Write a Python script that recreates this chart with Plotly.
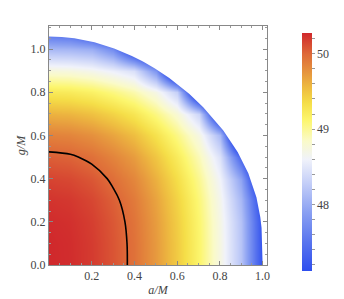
import plotly.graph_objects as go

# ---- data ----
a_vals = [0.0, 0.1, 0.2, 0.3, 0.4, 0.5, 0.6, 0.7, 0.8, 0.9, 1.0]
g_vals = [0.0, 0.1, 0.2, 0.3, 0.4, 0.5, 0.6, 0.7, 0.8, 0.9, 1.0, 1.1]

z_g00 = [50.280, 50.260, 50.198, 50.090, 49.955, 49.730, 49.465, 49.133, 48.720, 48.200, 47.120]
z_g01 = [50.278, 50.258, 50.196, 50.088, 49.953, 49.728, 49.463, 49.131, 48.718, 48.198, 47.120]
z_g02 = [50.265, 50.245, 50.183, 50.075, 49.940, 49.715, 49.450, 49.118, 48.705, 48.185, 47.110]
z_g03 = [50.230, 50.210, 50.148, 50.040, 49.905, 49.680, 49.415, 49.083, 48.670, 48.100, 47.000]
z_g04 = [50.160, 50.140, 50.078, 49.970, 49.835, 49.610, 49.345, 49.013, 48.600, 47.930, 46.530]
z_g05 = [50.043, 50.023, 49.961, 49.853, 49.718, 49.493, 49.228, 48.896, 48.450, 47.340, 46.200]
z_g06 = [49.864, 49.844, 49.782, 49.674, 49.539, 49.314, 49.049, 48.717, 48.100, 46.020, 45.800]
z_g07 = [49.607, 49.587, 49.525, 49.417, 49.282, 49.057, 48.792, 48.340, 46.620, 45.800, 45.800]
z_g08 = [49.253, 49.233, 49.171, 49.063, 48.928, 48.703, 48.290, 46.460, 45.800, 45.800, 45.800]
z_g09 = [48.766, 48.746, 48.684, 48.576, 48.441, 47.800, 46.200, 45.800, 45.800, 45.800, 45.800]
z_g10 = [48.093, 48.073, 48.011, 47.700, 46.900, 46.300, 45.800, 45.800, 45.800, 45.800, 45.800]
z_g11 = [47.240, 47.170, 46.800, 46.300, 45.800, 45.800, 45.800, 45.800, 45.800, 45.800, 45.800]

# edge of the region where the map is defined
boundary_a = [0.0, 0.06, 0.119, 0.169, 0.213, 0.305, 0.388, 0.440, 0.496, 0.563, 0.605,
              0.656, 0.722, 0.816, 0.883, 0.933, 0.971, 0.989, 0.995, 0.9995, 1.0]
boundary_g = [1.058, 1.056, 1.050, 1.041, 1.031, 1.003, 0.968, 0.942, 0.910, 0.866, 0.835,
              0.793, 0.731, 0.623, 0.523, 0.425, 0.314, 0.222, 0.173, 0.080, 0.0]

contour_level = 50.0
z_min, z_max = 47.12, 50.28
x_ticks = [0.2, 0.4, 0.6, 0.8, 1.0]
y_ticks = [0.0, 0.2, 0.4, 0.6, 0.8, 1.0]
cbar_major = [48, 49, 50]

# ---- figure ----
z = [z_g00, z_g01, z_g02, z_g03, z_g04, z_g05, z_g06, z_g07, z_g08, z_g09, z_g10, z_g11]

stops = [(47.12, (46, 78, 238)), (47.5, (88, 116, 238)), (47.9, (138, 160, 242)),
         (48.3, (198, 208, 248)), (48.6, (240, 242, 250)), (48.85, (250, 250, 200)),
         (49.12, (252, 246, 110)), (49.35, (245, 222, 72)), (49.55, (238, 188, 64)),
         (49.75, (230, 150, 62)), (50.0, (222, 105, 56)), (50.28, (208, 40, 44))]
colorscale = [[(v - z_min) / (z_max - z_min), "rgb(%d,%d,%d)" % c] for v, c in stops]
colorscale[-1][0] = 1.0

x_range = [0, 1.0205]
y_range = [0, 1.1067]

cb_vals = [round(47.2 + 0.2 * i, 1) for i in range(16)]
cb_text = [str(int(v)) if abs(v - round(v)) < 1e-6 and int(round(v)) in cbar_major else "" for v in cb_vals]

font_fam = "Liberation Serif, Times New Roman, serif"
gray = "#555555"

fig = go.Figure()
fig.add_trace(go.Heatmap(
    x=a_vals, y=g_vals, z=z, zsmooth="best", colorscale=colorscale,
    zmin=z_min, zmax=z_max, hoverinfo="skip",
    colorbar=dict(
        x=1.116, xanchor="left", xref="paper", y=0.474, yanchor="middle",
        lenmode="pixels", len=258, thickness=10, outlinewidth=0,
        tickmode="array", tickvals=cb_vals, ticktext=cb_text,
        ticks="outside", ticklen=3, tickwidth=1, tickcolor="#999999",
        tickfont=dict(family=font_fam, size=12, color="#444444"),
    ),
))
# white mask outside the allowed region
mask_x = boundary_a + [1.0, 1.3, 1.3, -0.1, -0.1]
mask_y = boundary_g + [-0.1, -0.1, 1.3, 1.3, boundary_g[0]]
fig.add_trace(go.Scatter(
    x=mask_x, y=mask_y, mode="lines", fill="toself", fillcolor="white",
    line=dict(width=0, color="white"), hoverinfo="skip", showlegend=False))
fig.add_trace(go.Contour(
    x=a_vals, y=g_vals, z=z, showscale=False, hoverinfo="skip",
    contours=dict(start=contour_level, end=contour_level, size=1, coloring="none"),
    line=dict(color="black", width=1.6, smoothing=1.0)))

axis_common = dict(
    showgrid=False, zeroline=False, showline=True, linecolor="#888888", linewidth=1,
    mirror="ticks", ticks="inside", ticklen=4, tickcolor="#888888",
    tickfont=dict(family=font_fam, size=12, color="#444444"),
    minor=dict(dtick=0.05, ticks="inside", ticklen=2, tickcolor="#999999"),
)
fig.update_xaxes(range=x_range, tickvals=x_ticks, ticktext=["%.1f" % v for v in x_ticks],
                 title=dict(text="<i>a/M</i>", font=dict(family=font_fam, size=12, color="#444444"),
                            standoff=3),
                 **axis_common)
fig.update_yaxes(range=y_range, tickvals=y_ticks, ticktext=["%.1f" % v for v in y_ticks],
                 title=dict(text="<i>g/M</i>", font=dict(family=font_fam, size=12, color="#444444"),
                            standoff=2),
                 **axis_common)
fig.update_layout(
    width=344, height=299, margin=dict(l=34, r=61, t=18, b=32),
    plot_bgcolor="white", paper_bgcolor="white", showlegend=False,
)
fig.write_html("out.html")
